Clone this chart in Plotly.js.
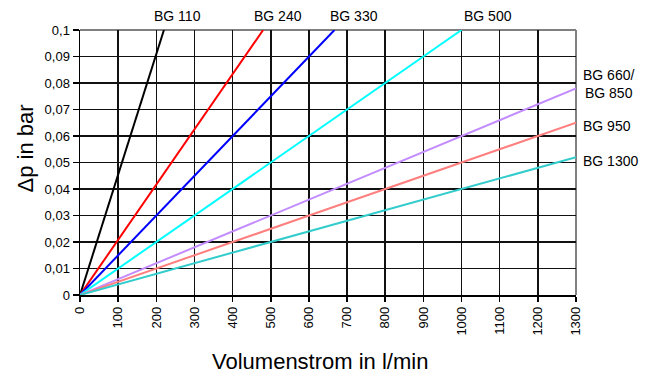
<!DOCTYPE html>
<html>
<head>
<meta charset="utf-8">
<script src="https://cdn.plot.ly/plotly-3.0.1.min.js"></script>
<style>html,body{margin:0;padding:0;background:#fff;}#chart{width:656px;height:375px;}</style>
</head>
<body>
<div id="chart"></div>
<script>
// Series: each line runs from the origin to its end point
const seriesNames = ['BG 110', 'BG 240', 'BG 330', 'BG 500', 'BG 660/<br>BG 850', 'BG 950', 'BG 1300'];
const flowStart = [0, 0, 0, 0, 0, 0, 0];
const dpStart = [0, 0, 0, 0, 0, 0, 0];
const flowEnd = [220, 480, 667, 1000, 1300, 1300, 1300];
const dpEnd = [0.1, 0.1, 0.1, 0.1, 0.078, 0.065, 0.052];
const seriesColors = ['#000000', '#ff0000', '#0000ff', '#00ffff', '#c38cff', '#ff7f7f', '#33cccc'];

// Ticks
const xTickVals = [0, 100, 200, 300, 400, 500, 600, 700, 800, 900, 1000, 1100, 1200, 1300];
const xTickText = ['0', '100', '200', '300', '400', '500', '600', '700', '800', '900', '1000', '1100', '1200', '1300'];
const yTickVals = [0, 0.01, 0.02, 0.03, 0.04, 0.05, 0.06, 0.07, 0.08, 0.09, 0.1];
const yTickText = ['0', '0,01', '0,02', '0,03', '0,04', '0,05', '0,06', '0,07', '0,08', '0,09', '0,1'];
const xTitle = 'Volumenstrom in l/min';
const yTitle = 'Δp in bar';

const FONT = 'Liberation Sans, Arial, sans-serif';

const traces = seriesNames.map((name, i) => ({
  type: 'scatter',
  mode: 'lines',
  name: name.replace('<br>', ' '),
  x: [flowStart[i], flowEnd[i]],
  y: [dpStart[i], dpEnd[i]],
  line: {color: seriesColors[i], width: 2},
  hoverinfo: 'skip'
}));

// label placement (offsets in px)
const topShiftX = [14, 15, 20, 26];
const rightShiftY = [4, -3, -3.5];
const annotations = seriesNames.map((name, i) => {
  if (i < 4) {
    return {x: flowEnd[i], y: dpEnd[i], xref: 'x', yref: 'y', text: name,
      showarrow: false, xanchor: 'center', yanchor: 'bottom', xshift: topShiftX[i], yshift: 4,
      font: {family: FONT, size: 14, color: '#000'}};
  }
  return {x: flowEnd[i], y: dpEnd[i], xref: 'x', yref: 'y', text: name,
    showarrow: false, xanchor: 'left', yanchor: 'middle', align: 'center', xshift: 5, yshift: rightShiftY[i - 4],
    font: {family: FONT, size: 14, color: '#000'}};
});
// axis titles
annotations.push({x: 0.5, y: 0, xref: 'paper', yref: 'paper', text: xTitle, showarrow: false,
  xanchor: 'center', yanchor: 'middle', xshift: -8, yshift: -66,
  font: {family: FONT, size: 22, color: '#000'}});
annotations.push({x: 0, y: 0.5, xref: 'paper', yref: 'paper', text: yTitle, showarrow: false,
  textangle: -90, xanchor: 'center', yanchor: 'middle', xshift: -55, yshift: 14,
  font: {family: FONT, size: 22, color: '#000'}});

const layout = {
  width: 656,
  height: 375,
  margin: {l: 80, r: 80, t: 30, b: 80},
  paper_bgcolor: '#ffffff',
  plot_bgcolor: '#ffffff',
  showlegend: false,
  font: {family: FONT, color: '#000'},
  xaxis: {
    range: [0, 1300],
    tickvals: xTickVals,
    ticktext: xTickText,
    tickangle: -90,
    tickfont: {family: FONT, size: 13, color: '#000'},
    ticks: 'outside', ticklen: 5, tickwidth: 1.5, tickcolor: '#000',
    showgrid: true, gridcolor: '#111', gridwidth: 1.5,
    zeroline: false,
    showline: true, linecolor: '#000', linewidth: 1.5
  },
  yaxis: {
    range: [0, 0.1],
    tickvals: yTickVals,
    ticktext: yTickText,
    tickfont: {family: FONT, size: 13, color: '#000'},
    ticks: 'outside', ticklen: 6, tickwidth: 1.5, tickcolor: '#000',
    showgrid: true, gridcolor: '#111', gridwidth: 1.5,
    zeroline: false,
    showline: true, linecolor: '#000', linewidth: 1.5
  },
  shapes: [
    {type: 'line', xref: 'paper', yref: 'paper', x0: 0, x1: 1, y0: 1, y1: 1, layer: 'between', line: {color: '#808080', width: 2}},
    {type: 'line', xref: 'paper', yref: 'paper', x0: 1, x1: 1, y0: 0, y1: 1, layer: 'between', line: {color: '#808080', width: 2}}
  ],
  annotations: annotations
};

Plotly.newPlot('chart', traces, layout, {displayModeBar: false, staticPlot: true});
</script>
</body>
</html>
